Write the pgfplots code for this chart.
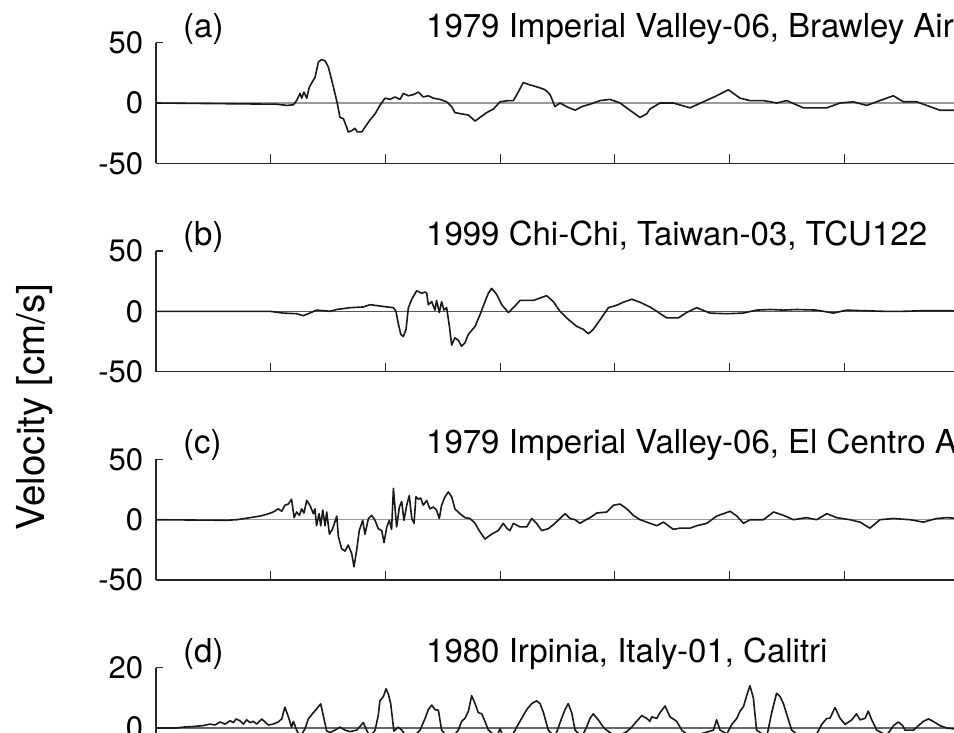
\documentclass[border=0pt]{standalone}
\usepackage{pgfplots}
\pgfplotsset{compat=1.18}
\usepackage{fontspec}
\setmainfont{TeX Gyre Heros}

\newcommand\tickfont{\fontsize{31}{37}\selectfont}
\newcommand\titlefont{\fontsize{33}{40}\selectfont}
\newcommand\labelfont{\fontsize{38.5}{46}\selectfont}
\definecolor{axisgray}{gray}{0.15}
\definecolor{zerogray}{gray}{0.6}

% Velocity time histories, panels (a)-(d)
\pgfplotstableread{
t v
0 0
2.64 -0.5
5.26 -1
5.70 -2
5.99 -1.5
6.13 2
6.28 8
6.35 4
6.45 9
6.57 4
6.68 13
6.86 19
6.93 21
7.00 27
7.08 34
7.22 36
7.37 35
7.51 30
7.66 19
7.80 8
7.90 0
8.02 -12
8.17 -13
8.31 -20
8.38 -24
8.53 -23
8.67 -21
8.78 -24
8.97 -24
9.11 -20
9.33 -14
9.55 -9
9.76 -2
9.98 4
10.20 3
10.42 5
10.64 3
10.78 8
11.00 6
11.22 7
11.44 9
11.65 5
11.87 6
12.09 4
12.38 3
12.67 1
12.89 -3
13.03 -8
13.32 -9
13.62 -10
13.91 -15
14.12 -12
14.41 -8
14.71 -5
15.00 1
15.36 2
15.58 2
15.79 9
16.01 17
16.30 15
16.67 13
16.96 11
17.18 7
17.39 -3
17.61 0
17.90 -3
18.27 -6
18.56 -3
18.92 -1
19.36 2
19.79 3
20.23 0
20.66 -6
21.10 -12
21.39 -9
21.53 -5
21.97 0
22.55 0
23.28 -4
23.86 1
24.44 6
24.95 11
25.46 4
25.89 2
26.48 2
27.06 0
27.49 2
28.22 -4
28.80 -4
29.24 -4
29.82 0
30.40 1
30.98 -2
31.70 3
32.14 6
32.58 1
33.16 1
33.74 -3
34.18 -6
34.54 -6
35.00 -6
36.00 -5
}\velA

\pgfplotstableread{
t v
0 0
4.97 0
5.55 -1.5
6.13 -2
6.42 -3.6
6.64 -2
7.00 1
7.59 0
7.88 1.5
8.46 3
9.04 3.6
9.33 5.5
9.91 4
10.35 3
10.46 0
10.56 -10
10.67 -19
10.78 -21
10.90 -15
11.00 3
11.15 10
11.36 17
11.58 15
11.73 16
11.80 15
11.87 5.5
12.02 8
12.16 1
12.23 9
12.35 -1
12.45 8
12.55 1
12.67 3
12.79 -12.5
12.89 -28
13.03 -22
13.18 -24
13.32 -29
13.47 -26
13.62 -19
13.91 -12.5
14.12 -3
14.34 8
14.49 15
14.63 19
14.85 14
15.07 5.5
15.36 -1
15.58 3
15.87 9
16.16 9
16.45 9
16.74 11
17.03 13
17.32 8
17.61 0
17.90 -5.5
18.34 -12.5
18.63 -15
18.85 -18.6
19.06 -15
19.36 -7
19.72 3
20.08 5
20.37 7.5
20.74 10
21.10 7.5
21.53 3.6
21.83 0
22.26 -5.5
22.77 -5.5
23.13 -1
23.57 3
24.15 -1.5
24.88 -2
25.60 -1.5
26.18 1
26.77 1.5
27.35 1
27.93 1.5
28.80 1
29.53 -1.5
30.11 1
30.83 0.5
31.71 0
32.58 0
33.45 0.5
34.47 0.5
36.00 0
}\velB

\pgfplotstableread{
t v
0 0
3.08 -0.5
3.52 0
4.10 1.7
4.53 3
4.82 4.4
5.11 6.4
5.33 9
5.48 7
5.62 12
5.77 13
5.91 17
6.02 1.7
6.13 6.4
6.25 3.6
6.35 9
6.45 5.5
6.57 16
6.71 12
6.86 5
6.93 9
7.00 -5
7.11 5
7.18 -5
7.27 8
7.37 -5
7.44 6.4
7.56 -12
7.70 -7.5
7.88 3
7.95 -14
8.09 -24
8.24 -26
8.38 -21
8.53 -28
8.63 -39
8.75 -25
8.86 -9
9.01 -0.5
9.11 -12
9.26 1
9.40 3.6
9.55 -0.5
9.69 -7.5
9.84 -9
9.94 -19
10.06 -6
10.17 -0.5
10.27 -8
10.35 26
10.49 -6
10.61 10.5
10.71 15
10.81 -0.5
10.93 12
11.04 20
11.15 1
11.25 -3
11.33 19
11.44 17
11.54 18
11.65 12
11.80 16
11.94 9
12.09 10.5
12.23 8
12.35 1
12.45 12
12.60 19
12.74 23
12.89 19
13.03 9
13.25 5
13.47 1.7
13.69 1
13.91 -3
14.12 -10
14.34 -16
14.63 -12
14.92 -9
15.14 -3
15.29 -7
15.43 -9
15.58 -3
15.87 -6
16.16 -6
16.38 1
16.59 -3
16.81 -9
17.10 -7.5
17.39 -3
17.61 1
17.83 5
18.05 1
18.27 0
18.48 -3
18.70 -0.5
18.92 1.7
19.21 5.5
19.65 6.4
19.94 12
20.23 13
20.52 9
20.81 3.6
21.10 0
21.39 -2
21.83 -5
22.12 -2
22.55 -8
22.84 -7
23.28 -7
23.57 -5
24.01 -3
24.44 3
25.03 7
25.32 3
25.61 -3
25.90 0
26.48 0
26.92 6.4
27.35 3.6
27.79 0
28.35 1.7
28.80 0
29.24 5
29.67 1.7
30.25 0
30.69 -2
31.12 -7
31.56 0
32.14 1
32.87 0
33.45 -2
34.03 1
34.47 1.7
35.00 1
36.00 0
}\velC

\pgfplotstableread{
t v
0 0
0.90 0
1.19 0.3
1.63 0.5
2.06 0.8
2.35 1.3
2.57 1.0
2.79 2.0
3.01 1.3
3.23 2.4
3.37 1.8
3.49 3.0
3.66 2.4
3.81 1.3
3.95 2.7
4.10 1.8
4.24 2.2
4.39 1.3
4.61 3.0
4.75 2.0
4.90 1.0
5.11 1.3
5.33 2.0
5.48 3.0
5.62 6.9
5.77 3.7
5.91 0.3
5.99 2.2
6.13 -0.7
6.28 -3
6.50 -0.2
6.64 3.0
6.86 5.1
7.00 6.3
7.18 8.0
7.29 4.2
7.44 -1
7.59 -1.5
7.80 -0.7
8.02 0.3
8.24 -0.7
8.46 -1.2
8.75 -0.7
9.04 1.8
9.18 -0.7
9.33 -3
9.55 -0.7
9.69 4.2
9.76 9.0
9.91 10.4
10.03 13.0
10.14 11.0
10.23 8.1
10.37 -1
10.56 0.3
10.71 -0.7
10.93 -3
11.22 -3
11.51 -0.7
11.73 3.2
11.87 6.1
12.02 7.6
12.16 6.1
12.31 5.9
12.45 -0.7
12.82 -4
13.18 -0.7
13.32 2.2
13.47 3.2
13.62 5.6
13.76 10.7
13.91 8.1
14.05 5.1
14.20 4.7
14.34 2.2
14.49 -0.7
14.85 -3
15.00 -0.2
15.14 -3
15.50 -3
15.72 0.3
15.94 3.2
16.16 6.1
16.38 8.1
16.59 9.0
16.74 8.1
16.89 5.1
17.10 -0.7
17.39 -3
17.68 3.2
17.83 6.1
17.97 8.1
18.12 5.1
18.27 -0.7
18.56 -3
18.77 0.3
18.92 3.2
19.06 4.7
19.28 2.7
19.50 0.3
19.64 -0.7
20.08 -3
20.52 -1.2
20.74 0.3
20.95 2.2
21.17 4.1
21.39 3.2
21.53 2.2
21.61 3.7
21.83 3.2
21.97 5.1
22.19 7.3
22.41 3.7
22.70 2.2
22.92 -0.7
23.28 -3
24.30 -0.7
24.44 2.7
24.59 -0.7
24.88 -2
25.10 1.2
25.32 3.2
25.46 5.6
25.61 7.1
25.76 11.0
25.89 14.0
26.04 10.0
26.18 -0.7
26.62 -3
26.84 5.1
27.05 11.5
27.20 10.5
27.35 8.1
27.57 2.7
27.71 -0.7
27.93 -2
28.80 -2
29.02 1.2
29.24 3.2
29.38 3.2
29.60 6.8
29.82 3.2
30.04 1.2
30.33 2.7
30.54 4.7
30.69 2.7
30.91 3.2
31.05 5.6
31.20 2.7
31.42 -0.7
31.85 -2.5
32.15 0.8
32.36 2.0
32.55 0.8
32.65 -0.7
33.02 -0.7
33.24 0.8
33.45 2.2
33.67 3.0
33.88 2.2
34.18 0.8
34.47 0
35.00 -0.5
36.00 -1
}\velD

\pgfplotsset{
  trace/.style={
    scale only axis, width=917.6pt, height=120.6pt,
    anchor=north west,
    xmin=0, xmax=40,
    xtick={5,10,...,35}, xticklabels={},
    axis lines*=left,
    axis line style={axisgray, line width=1.2pt, -},
    tick style={axisgray, line width=1.2pt},
    major tick length=7pt,
    xtick style={/pgfplots/major tick length=9pt},
    tick label style={font=\tickfont, text=black},
    yticklabel style={anchor=east, inner sep=0pt, xshift=-12.7pt},
  },
  zero/.style={zerogray, line width=1.4pt, forget plot},
  sig/.style={black!90, line width=1.6pt, line join=round},
}

\begin{document}
\begin{tikzpicture}
\useasboundingbox (0pt,0pt) rectangle (954pt,-733pt);
\clip (0pt,0pt) rectangle (954pt,-733pt);

\begin{axis}[trace, at={(156pt,-42.7pt)},
  ymin=-50, ymax=50, ytick={-50,0,50}, yticklabels={-50,0,50}]
  \addplot[zero] coordinates {(0,0) (40,0)};
  \addplot[sig] table {\velA};
\end{axis}

\begin{axis}[trace, at={(156pt,-251pt)},
  ymin=-50, ymax=50, ytick={-50,0,50}, yticklabels={-50,0,50}]
  \addplot[zero, gray!70!black, line width=1.1pt] coordinates {(0,0) (40,0)};
  \addplot[sig] table {\velB};
\end{axis}

\begin{axis}[trace, at={(156pt,-459.4pt)},
  ymin=-50, ymax=50, ytick={-50,0,50}, yticklabels={-50,0,50}]
  \addplot[zero] coordinates {(0,0) (40,0)};
  \addplot[sig] table {\velC};
\end{axis}

\begin{axis}[trace, at={(156pt,-667.7pt)},
  ymin=-20, ymax=20, ytick={-20,0,20}, yticklabels={-20,0,20}]
  \addplot[zero, gray!80!black, line width=1.1pt] coordinates {(0,0) (40,0)};
  \addplot[sig] table {\velD};
\end{axis}

% panel letters and record names
\begin{scope}[every node/.style={anchor=base west, inner sep=0pt, font=\titlefont}]
  \node at (183pt,-37.2pt) {(a)};
  \node at (426pt,-37.2pt) {1979 Imperial Valley-06, Brawley Airport};
  \node at (183pt,-245.5pt) {(b)};
  \node at (426pt,-245.5pt) {1999 Chi-Chi, Taiwan-03, TCU122};
  \node at (183pt,-453.9pt) {(c)};
  \node at (426pt,-453.9pt) {1979 Imperial Valley-06, El Centro Array};
  \node at (183pt,-662.2pt) {(d)};
  \node at (426pt,-662.2pt) {1980 Irpinia, Italy-01, Calitri};
\end{scope}

\node[rotate=90, anchor=base, inner sep=0pt, font=\labelfont]
  at (45pt,-407pt) {Velocity [cm/s]};
\end{tikzpicture}
\end{document}
